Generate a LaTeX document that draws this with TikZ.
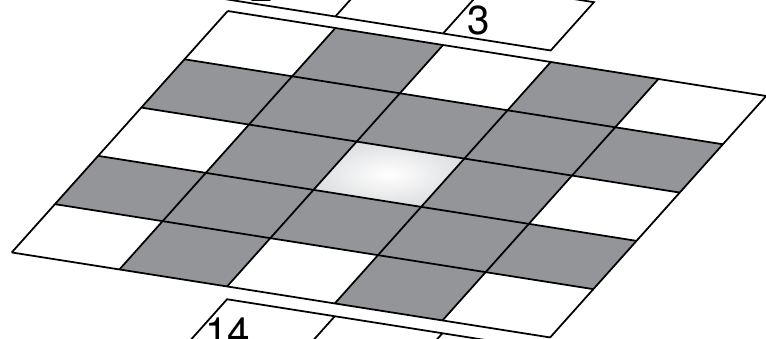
\documentclass[tikz,border=0pt]{standalone}
\usepackage{fontspec}
\setmainfont{TeX Gyre Heros}
\usetikzlibrary{calc}

\definecolor{cellgray}{RGB}{147,149,152}
\definecolor{rimgray}{RGB}{222,223,225}

\begin{document}
\begin{tikzpicture}[x=0.02cm, y=-0.02cm,
    gridline/.style={line width=1pt, black},
    number/.style={inner sep=0pt, font=\fontsize{23}{24}\selectfont}]
    % Frame of the picture
    \useasboundingbox (0,0) rectangle (766,338);
    \clip (0,0) rectangle (766,338);

    % Main plane: 5x5 cells, lattice vectors along the plane
    \begin{scope}[shift={(227.7,11)}, x={(2.154cm,-0.34cm)}, y={(-0.864cm,-0.966cm)}]
        % Cells
        \fill[white] (0,0) -- (5,0) -- (5,5) -- (0,5) -- cycle;
        \foreach \r in {1,3}
            \fill[cellgray] (0,\r) -- (5,\r) -- (5,\r+1) -- (0,\r+1) -- cycle;
        \foreach \c in {1,3}
            \fill[cellgray] (\c,0) -- (\c+1,0) -- (\c+1,5) -- (\c,5) -- cycle;

        % Centre cell
        \shade[inner color=white, outer color=rimgray] (2,2) -- (3,2) -- (3,3) -- (2,3) -- cycle;

        % Grid lines
        \foreach \i in {0,...,5} {
            \draw[gridline] (\i,0) -- (\i,5);
            \draw[gridline] (0,\i) -- (5,\i);
        }

        % Upper strip
        \begin{scope}[yshift=0.23cm]
            \fill[white] (-1,-1) -- (3,-1) -- (3,0) -- (-1,0) -- cycle;
            \draw[gridline] (-1,-1) -- (3,-1) -- (3,0) -- (-1,0) -- cycle;
            \foreach \c in {0,1,2}
                \draw[gridline] (\c,-1) -- (\c,0);
        \end{scope}

        % Lower strip
        \begin{scope}[yshift=-0.256cm]
            \fill[white] (2,5) -- (6,5) -- (6,6) -- (2,6) -- cycle;
            \draw[gridline] (2,5) -- (6,5) -- (6,6) -- (2,6) -- cycle;
            \foreach \c in {3,4,5}
                \draw[gridline] (\c,5) -- (\c,6);
        \end{scope}
    \end{scope}

    % Numbers
    \node[number] (num2) at (262,-12.5) {2};
    \node[number] (num3) at (479,20.5) {3};
    \node[number] (num14) at (227.5,332) {14};
\end{tikzpicture}
\end{document}
